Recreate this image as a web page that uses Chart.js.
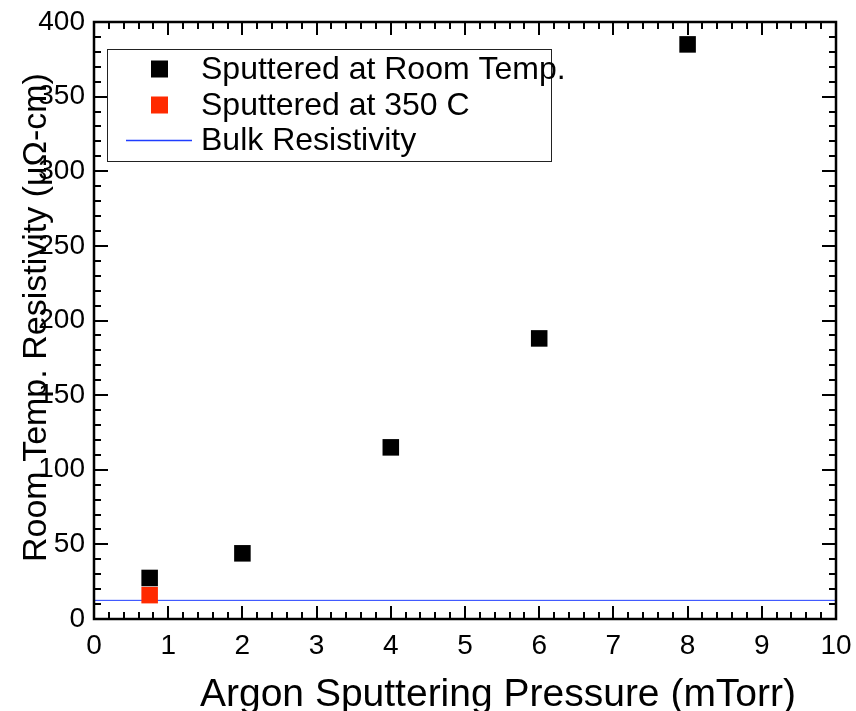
<!DOCTYPE html>
<html>
<head>
<meta charset="utf-8">
<script src="https://cdn.jsdelivr.net/npm/chart.js@4.4.1/dist/chart.umd.min.js"></script>
<style>
  body { margin: 0; background: #fff; }
  canvas { display: block; }
</style>
</head>
<body>
<canvas id="chart" width="856" height="711"></canvas>
<script>
// data
const roomTempPressure = [0.75, 2, 4, 6, 8];
const roomTempResistivity = [27.5, 44, 115, 188, 385];
const hotPressure = [0.75];
const hotResistivity = [16];
const bulkPressure = [0, 10];
const bulkResistivity = [12.5, 12.5];

const seriesLabels = ['Sputtered at Room Temp.', 'Sputtered at 350 C', 'Bulk Resistivity'];
const xTitle = 'Argon Sputtering Pressure (mTorr)';
const yTitle = 'Room Temp. Resistivity (μΩ-cm)';

const FONT = '"Liberation Sans", Arial, Helvetica, sans-serif';
const BLACK = '#000000';
const RED = '#ff2a00';
const BLUE = '#1f3dff';

const toPoints = (xs, ys) => xs.map((x, i) => ({ x: x, y: ys[i] }));

// inward ticks on all four sides + frame
const framePlugin = {
  id: 'frame',
  afterDatasetsDraw(chart) {
    const { ctx, chartArea: a, scales: { x, y } } = chart;
    ctx.save();
    ctx.strokeStyle = '#000';
    ctx.lineWidth = 2;
    ctx.beginPath();
    for (let i = 0; i <= 50; i++) {
      const px = Math.round(x.getPixelForValue(i * 0.2));
      const len = i % 5 === 0 ? 13 : 7;
      ctx.moveTo(px, a.bottom); ctx.lineTo(px, a.bottom - len);
      ctx.moveTo(px, a.top); ctx.lineTo(px, a.top + len);
    }
    for (let i = 0; i <= 40; i++) {
      const py = Math.round(y.getPixelForValue(i * 10));
      const len = i % 5 === 0 ? 14 : 7;
      ctx.moveTo(a.left, py); ctx.lineTo(a.left + len, py);
      ctx.moveTo(a.right, py); ctx.lineTo(a.right - len, py);
    }
    ctx.stroke();
    ctx.lineWidth = 2.5;
    ctx.strokeRect(a.left, a.top, a.right - a.left, a.bottom - a.top);
    ctx.restore();
  }
};

// boxed legend inside the plot, top left
const boxLegend = {
  id: 'boxLegend',
  afterDraw(chart) {
    const ctx = chart.ctx;
    ctx.save();
    ctx.fillStyle = '#fff';
    ctx.fillRect(107, 49, 444, 112);
    ctx.strokeStyle = '#222';
    ctx.lineWidth = 1;
    ctx.strokeRect(107.5, 49.5, 444, 112);
    const rows = [69, 105, 140];
    chart.data.datasets.forEach((ds, i) => {
      const ry = rows[i];
      if (ds.showLine) {
        ctx.strokeStyle = ds.borderColor;
        ctx.lineWidth = 1.5;
        ctx.beginPath();
        ctx.moveTo(126, ry + 0.5);
        ctx.lineTo(192, ry + 0.5);
        ctx.stroke();
      } else {
        ctx.fillStyle = ds.backgroundColor;
        ctx.fillRect(151, ry - 8.5, 17, 17);
      }
      ctx.fillStyle = '#000';
      ctx.font = '32px ' + FONT;
      ctx.textBaseline = 'middle';
      ctx.textAlign = 'left';
      ctx.fillText(ds.label, 201, ry + 1);
    });
    ctx.restore();
  }
};

// axis titles placed like the reference
const axisTitles = {
  id: 'axisTitles',
  afterDraw(chart) {
    const ctx = chart.ctx;
    ctx.save();
    ctx.fillStyle = '#000';
    ctx.font = '39px ' + FONT;
    ctx.textAlign = 'center';
    ctx.textBaseline = 'alphabetic';
    ctx.fillText(xTitle, 498, 706);
    ctx.translate(46, 562);
    ctx.rotate(-Math.PI / 2);
    ctx.font = '34px ' + FONT;
    ctx.textAlign = 'left';
    ctx.fillText(yTitle, 0, 0);
    ctx.restore();
  }
};

const dropPadding = (scale) => {
  scale.paddingTop = 0;
  scale.paddingBottom = 0;
  scale.paddingLeft = 0;
  scale.paddingRight = 0;
};

new Chart(document.getElementById('chart'), {
  type: 'scatter',
  data: {
    datasets: [
      {
        label: seriesLabels[0],
        data: toPoints(roomTempPressure, roomTempResistivity),
        pointStyle: 'rect',
        pointRadius: 11.7,
        pointBorderWidth: 0,
        backgroundColor: BLACK,
        borderColor: BLACK,
        showLine: false
      },
      {
        label: seriesLabels[1],
        data: toPoints(hotPressure, hotResistivity),
        pointStyle: 'rect',
        pointRadius: 11.7,
        pointBorderWidth: 0,
        backgroundColor: RED,
        borderColor: RED,
        showLine: false
      },
      {
        label: seriesLabels[2],
        data: toPoints(bulkPressure, bulkResistivity),
        showLine: true,
        pointRadius: 0,
        borderWidth: 1,
        borderColor: BLUE,
        backgroundColor: BLUE
      }
    ]
  },
  options: {
    responsive: false,
    animation: false,
    layout: { padding: { top: 22, right: 20, left: 0, bottom: 0 } },
    plugins: {
      legend: { display: false },
      tooltip: { enabled: false }
    },
    scales: {
      x: {
        type: 'linear',
        min: 0,
        max: 10,
        grid: { display: false, drawTicks: false },
        border: { display: false },
        ticks: { stepSize: 1, padding: 13, color: '#000', font: { family: FONT, size: 28, lineHeight: 1 } },
        afterFit: (scale) => { scale.height = 92; dropPadding(scale); }
      },
      y: {
        type: 'linear',
        min: 0,
        max: 400,
        grid: { display: false, drawTicks: false },
        border: { display: false },
        ticks: { stepSize: 50, padding: 9, color: '#000', font: { family: FONT, size: 28, lineHeight: 1 } },
        afterFit: (scale) => { scale.width = 94; dropPadding(scale); }
      }
    }
  },
  plugins: [framePlugin, boxLegend, axisTitles]
});
</script>
</body>
</html>
